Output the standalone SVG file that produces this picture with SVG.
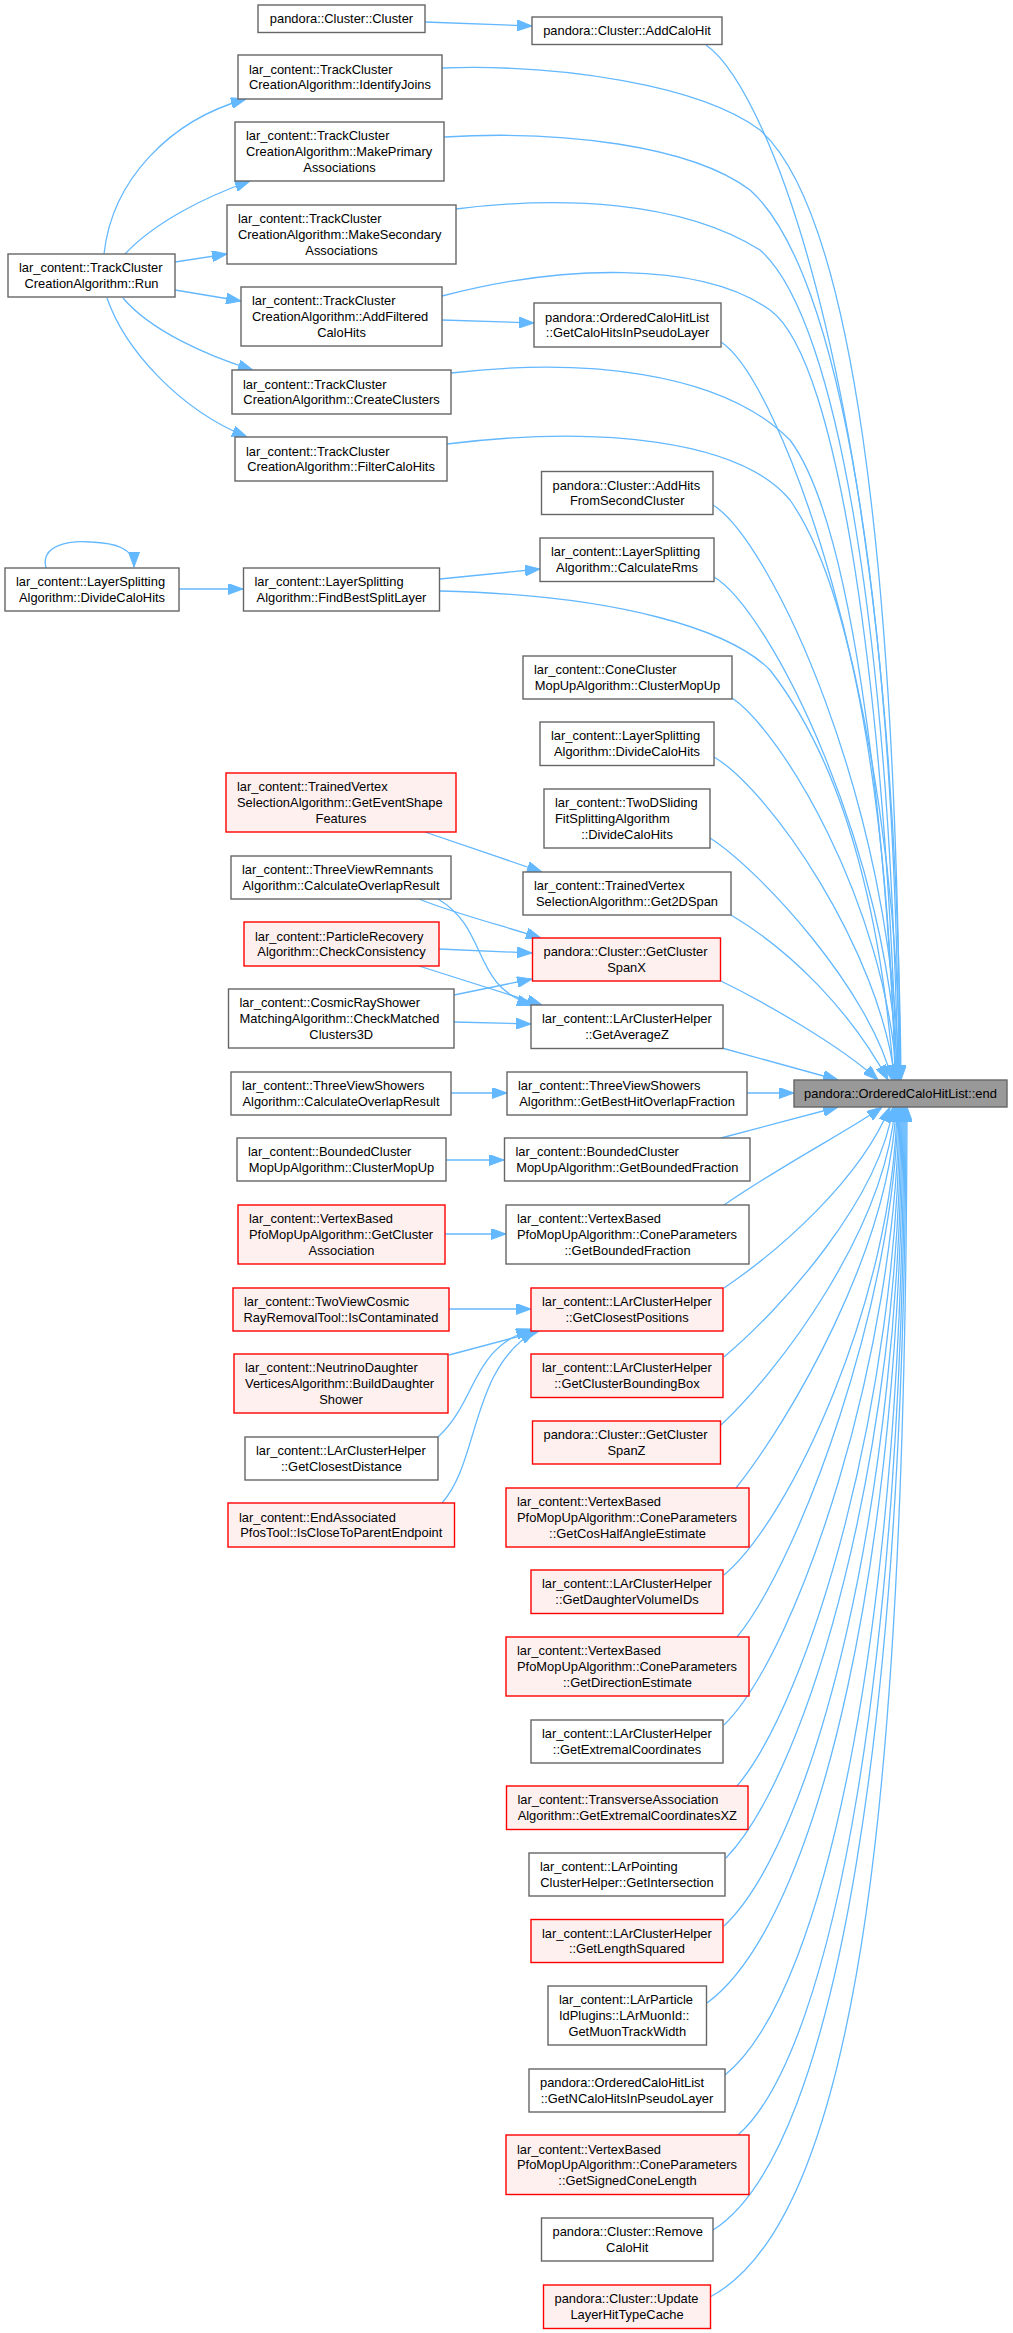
<svg xmlns="http://www.w3.org/2000/svg" width="1013" height="2333" viewBox="0 0 1013 2333">
<style>
.n rect{fill:#ffffff;stroke:#666666;stroke-width:1.4}
.r rect{fill:#fff0f0;stroke:#ff0000;stroke-width:1.4}
.root rect{fill:#999999;stroke:#666666;stroke-width:1.4}
text{font-family:"Liberation Sans",Arial,Helvetica,sans-serif;font-size:12.9px;fill:#000000}
.m{text-anchor:middle}
#edges path{fill:none;stroke:#63b8ff;stroke-width:1.3;marker-end:url(#a)}
</style>
<defs>
<marker id="a" viewBox="0 0 15 11" refX="15" refY="5.5" markerWidth="15" markerHeight="11" markerUnits="userSpaceOnUse" orient="auto">
<path d="M0,0 L15,5.5 L0,11 z" fill="#63b8ff" stroke="#63b8ff" stroke-width="1"/>
</marker>
</defs>
<rect x="0" y="0" width="1013" height="2333" fill="#ffffff"/>
<g id="edges">
<path d="M425,22 L532,26"/>
<path d="M442,320 L534,323"/>
<path d="M104,254 C112,180 170,120 246,99"/>
<path d="M125,254 C155,222 205,197 250,181"/>
<path d="M175,262 L227,254"/>
<path d="M175,290 L241,301"/>
<path d="M123,298 C150,330 205,355 253,370"/>
<path d="M107,298 C125,350 180,410 247,437"/>
<path d="M46,568 C40,545 70,540 91,542 C115,543 134,548 134,567"/>
<path d="M179,589 L243,589"/>
<path d="M440,579 L540,569"/>
<path d="M454,995 L532,979"/>
<path d="M454,1022 L531,1024"/>
<path d="M425,832 L542,872"/>
<path d="M419,899 C450,912 500,925 541,938"/>
<path d="M438,899 C490,930 470,985 532,1005"/>
<path d="M439,949 L532,953"/>
<path d="M419,966 L542,1005"/>
<path d="M451,1093 L507,1093"/>
<path d="M446,1160 L504,1160"/>
<path d="M445,1234 L506,1234"/>
<path d="M449,1309 L531,1309"/>
<path d="M449,1355 L539,1331"/>
<path d="M438,1437 C478,1400 470,1350 531,1329"/>
<path d="M442,1503 C480,1460 470,1370 535,1331"/>
<path d="M706,45 C770,90 895,400 901,1080"/>
<path d="M442,68 C560,64 700,85 760,130 C850,210 897,550 900,1080"/>
<path d="M444,137 C560,130 690,145 750,190 C840,270 895,600 899,1080"/>
<path d="M456,209 C560,196 680,200 760,250 C840,320 890,650 898,1080"/>
<path d="M442,296 C560,265 700,260 770,310 C840,360 885,700 897,1080"/>
<path d="M721,342 C780,380 898,700 900,1080"/>
<path d="M451,373 C580,358 720,370 790,440 C850,520 885,800 896,1080"/>
<path d="M447,444 C600,425 740,440 790,500 C860,600 890,850 895,1080"/>
<path d="M713,505 C770,540 893,800 899,1080"/>
<path d="M714,577 C770,610 890,850 898,1080"/>
<path d="M440,591 C620,595 730,630 770,670 C840,760 880,900 894,1080"/>
<path d="M732,698 C780,730 885,900 897,1080"/>
<path d="M714,757 C770,790 880,950 895,1080"/>
<path d="M710,838 C760,870 870,990 892,1080"/>
<path d="M731,915 C790,950 850,1010 888,1080"/>
<path d="M721,981 C760,1000 840,1045 878,1080"/>
<path d="M722,1048 L838,1080"/>
<path d="M747,1093 L794,1093"/>
<path d="M721,1138 L838,1107"/>
<path d="M724,1205 C790,1160 850,1130 882,1107"/>
<path d="M724,1288 C780,1250 860,1180 890,1107"/>
<path d="M724,1357 C780,1310 880,1200 893,1107"/>
<path d="M721,1425 C780,1370 885,1230 895,1107"/>
<path d="M736,1488 C790,1420 890,1250 896,1107"/>
<path d="M724,1575 C790,1520 893,1300 897,1107"/>
<path d="M737,1637 C800,1560 895,1300 898,1107"/>
<path d="M724,1725 C800,1650 897,1350 899,1107"/>
<path d="M737,1786 C810,1700 898,1400 900,1107"/>
<path d="M726,1858 C810,1770 900,1450 901,1107"/>
<path d="M724,1926 C815,1840 901,1500 902,1107"/>
<path d="M707,2003 C820,1920 902,1550 903,1107"/>
<path d="M725,2075 C830,1990 903,1600 904,1107"/>
<path d="M738,2135 C835,2050 904,1650 905,1107"/>
<path d="M713,2230 C840,2150 905,1700 906,1107"/>
<path d="M710,2297 C865,2215 906,1750 907,1107"/>
</g>
<g id="root" class="root"><rect x="794" y="1080" width="213" height="27"/><text class="m" x="900.5" y="1098">pandora::OrderedCaloHitList::end</text></g>
<g id="n1" class="n"><rect x="8" y="254" width="167" height="43"/><text x="19" y="272.15">lar_content::TrackCluster</text><text class="m" x="91.5" y="287.85">CreationAlgorithm::Run</text></g>
<g id="n2" class="n"><rect x="5" y="568" width="174" height="43"/><text x="16" y="586.15">lar_content::LayerSplitting</text><text class="m" x="92" y="601.85">Algorithm::DivideCaloHits</text></g>
<g id="n3" class="n"><rect x="258" y="5" width="167" height="27.5"/><text class="m" x="341.5" y="23.25">pandora::Cluster::Cluster</text></g>
<g id="n4" class="n"><rect x="238" y="55" width="204" height="44"/><text x="249" y="73.65">lar_content::TrackCluster</text><text class="m" x="340" y="89.35">CreationAlgorithm::IdentifyJoins</text></g>
<g id="n5" class="n"><rect x="235" y="122" width="209" height="59"/><text x="246" y="140.3">lar_content::TrackCluster</text><text x="246" y="156">CreationAlgorithm::MakePrimary</text><text class="m" x="339.5" y="171.7">Associations</text></g>
<g id="n6" class="n"><rect x="227" y="205" width="229" height="59"/><text x="238" y="223.3">lar_content::TrackCluster</text><text x="238" y="239">CreationAlgorithm::MakeSecondary</text><text class="m" x="341.5" y="254.7">Associations</text></g>
<g id="n7" class="n"><rect x="241" y="287" width="201" height="59"/><text x="252" y="305.3">lar_content::TrackCluster</text><text x="252" y="321">CreationAlgorithm::AddFiltered</text><text class="m" x="341.5" y="336.7">CaloHits</text></g>
<g id="n8" class="n"><rect x="232" y="370" width="219" height="44"/><text x="243" y="388.65">lar_content::TrackCluster</text><text class="m" x="341.5" y="404.35">CreationAlgorithm::CreateClusters</text></g>
<g id="n9" class="n"><rect x="235" y="437" width="212" height="44"/><text x="246" y="455.65">lar_content::TrackCluster</text><text class="m" x="341" y="471.35">CreationAlgorithm::FilterCaloHits</text></g>
<g id="n10" class="n"><rect x="243.5" y="568" width="196" height="43"/><text x="254.5" y="586.15">lar_content::LayerSplitting</text><text class="m" x="341.5" y="601.85">Algorithm::FindBestSplitLayer</text></g>
<g id="n11" class="r"><rect x="226" y="773" width="230" height="59"/><text x="237" y="791.3">lar_content::TrainedVertex</text><text x="237" y="807">SelectionAlgorithm::GetEventShape</text><text class="m" x="341" y="822.7">Features</text></g>
<g id="n12" class="n"><rect x="231" y="856" width="220" height="43"/><text x="242" y="874.15">lar_content::ThreeViewRemnants</text><text class="m" x="341" y="889.85">Algorithm::CalculateOverlapResult</text></g>
<g id="n13" class="r"><rect x="244" y="922" width="195" height="44"/><text x="255" y="940.65">lar_content::ParticleRecovery</text><text class="m" x="341.5" y="956.35">Algorithm::CheckConsistency</text></g>
<g id="n14" class="n"><rect x="228.5" y="989" width="225.5" height="59"/><text x="239.5" y="1007.3">lar_content::CosmicRayShower</text><text x="239.5" y="1023">MatchingAlgorithm::CheckMatched</text><text class="m" x="341.25" y="1038.7">Clusters3D</text></g>
<g id="n15" class="n"><rect x="231" y="1072" width="220" height="43"/><text x="242" y="1090.15">lar_content::ThreeViewShowers</text><text class="m" x="341" y="1105.85">Algorithm::CalculateOverlapResult</text></g>
<g id="n16" class="n"><rect x="237" y="1138" width="209" height="43"/><text x="248" y="1156.15">lar_content::BoundedCluster</text><text class="m" x="341.5" y="1171.85">MopUpAlgorithm::ClusterMopUp</text></g>
<g id="n17" class="r"><rect x="238" y="1205" width="207" height="59"/><text x="249" y="1223.3">lar_content::VertexBased</text><text x="249" y="1239">PfoMopUpAlgorithm::GetCluster</text><text class="m" x="341.5" y="1254.7">Association</text></g>
<g id="n18" class="r"><rect x="233" y="1288" width="216" height="43"/><text x="244" y="1306.15">lar_content::TwoViewCosmic</text><text class="m" x="341" y="1321.85">RayRemovalTool::IsContaminated</text></g>
<g id="n19" class="r"><rect x="234" y="1354" width="214" height="59"/><text x="245" y="1372.3">lar_content::NeutrinoDaughter</text><text x="245" y="1388">VerticesAlgorithm::BuildDaughter</text><text class="m" x="341" y="1403.7">Shower</text></g>
<g id="n20" class="n"><rect x="245" y="1437" width="193" height="43"/><text x="256" y="1455.15">lar_content::LArClusterHelper</text><text class="m" x="341.5" y="1470.85">::GetClosestDistance</text></g>
<g id="n21" class="r"><rect x="228" y="1503" width="226.5" height="44"/><text x="239" y="1521.65">lar_content::EndAssociated</text><text class="m" x="341.25" y="1537.35">PfosTool::IsCloseToParentEndpoint</text></g>
<g id="n22" class="n"><rect x="532" y="17" width="190" height="27.5"/><text class="m" x="627" y="35.25">pandora::Cluster::AddCaloHit</text></g>
<g id="n23" class="n"><rect x="534" y="303" width="187" height="44"/><text x="545" y="321.65">pandora::OrderedCaloHitList</text><text class="m" x="627.5" y="337.35">::GetCaloHitsInPseudoLayer</text></g>
<g id="n24" class="n"><rect x="541.5" y="471.5" width="171.5" height="43"/><text x="552.5" y="489.65">pandora::Cluster::AddHits</text><text class="m" x="627.25" y="505.35">FromSecondCluster</text></g>
<g id="n25" class="n"><rect x="540" y="538" width="174" height="43.5"/><text x="551" y="556.4">lar_content::LayerSplitting</text><text class="m" x="627" y="572.1">Algorithm::CalculateRms</text></g>
<g id="n26" class="n"><rect x="523" y="656" width="209" height="43"/><text x="534" y="674.15">lar_content::ConeCluster</text><text class="m" x="627.5" y="689.85">MopUpAlgorithm::ClusterMopUp</text></g>
<g id="n27" class="n"><rect x="540" y="722" width="174" height="43.5"/><text x="551" y="740.4">lar_content::LayerSplitting</text><text class="m" x="627" y="756.1">Algorithm::DivideCaloHits</text></g>
<g id="n28" class="n"><rect x="544" y="789" width="166" height="59"/><text x="555" y="807.3">lar_content::TwoDSliding</text><text x="555" y="823">FitSplittingAlgorithm</text><text class="m" x="627" y="838.7">::DivideCaloHits</text></g>
<g id="n29" class="n"><rect x="523" y="872" width="208" height="43"/><text x="534" y="890.15">lar_content::TrainedVertex</text><text class="m" x="627" y="905.85">SelectionAlgorithm::Get2DSpan</text></g>
<g id="n30" class="r"><rect x="532.5" y="938" width="188" height="43"/><text x="543.5" y="956.15">pandora::Cluster::GetCluster</text><text class="m" x="626.5" y="971.85">SpanX</text></g>
<g id="n31" class="n"><rect x="531" y="1005" width="192" height="43.5"/><text x="542" y="1023.4">lar_content::LArClusterHelper</text><text class="m" x="627" y="1039.1">::GetAverageZ</text></g>
<g id="n32" class="n"><rect x="507" y="1072" width="240" height="43"/><text x="518" y="1090.15">lar_content::ThreeViewShowers</text><text class="m" x="627" y="1105.85">Algorithm::GetBestHitOverlapFraction</text></g>
<g id="n33" class="n"><rect x="504.5" y="1138" width="245.5" height="43"/><text x="515.5" y="1156.15">lar_content::BoundedCluster</text><text class="m" x="627.25" y="1171.85">MopUpAlgorithm::GetBoundedFraction</text></g>
<g id="n34" class="n"><rect x="506" y="1205" width="243" height="59"/><text x="517" y="1223.3">lar_content::VertexBased</text><text x="517" y="1239">PfoMopUpAlgorithm::ConeParameters</text><text class="m" x="627.5" y="1254.7">::GetBoundedFraction</text></g>
<g id="n35" class="r"><rect x="531" y="1288" width="192" height="43"/><text x="542" y="1306.15">lar_content::LArClusterHelper</text><text class="m" x="627" y="1321.85">::GetClosestPositions</text></g>
<g id="n36" class="r"><rect x="531" y="1354" width="192" height="43.5"/><text x="542" y="1372.4">lar_content::LArClusterHelper</text><text class="m" x="627" y="1388.1">::GetClusterBoundingBox</text></g>
<g id="n37" class="r"><rect x="532.5" y="1421" width="188" height="43"/><text x="543.5" y="1439.15">pandora::Cluster::GetCluster</text><text class="m" x="626.5" y="1454.85">SpanZ</text></g>
<g id="n38" class="r"><rect x="506" y="1488" width="243" height="59"/><text x="517" y="1506.3">lar_content::VertexBased</text><text x="517" y="1522">PfoMopUpAlgorithm::ConeParameters</text><text class="m" x="627.5" y="1537.7">::GetCosHalfAngleEstimate</text></g>
<g id="n39" class="r"><rect x="531" y="1570" width="192" height="43.5"/><text x="542" y="1588.4">lar_content::LArClusterHelper</text><text class="m" x="627" y="1604.1">::GetDaughterVolumeIDs</text></g>
<g id="n40" class="r"><rect x="506" y="1637" width="243" height="59"/><text x="517" y="1655.3">lar_content::VertexBased</text><text x="517" y="1671">PfoMopUpAlgorithm::ConeParameters</text><text class="m" x="627.5" y="1686.7">::GetDirectionEstimate</text></g>
<g id="n41" class="n"><rect x="531" y="1720" width="192" height="43"/><text x="542" y="1738.15">lar_content::LArClusterHelper</text><text class="m" x="627" y="1753.85">::GetExtremalCoordinates</text></g>
<g id="n42" class="r"><rect x="506.5" y="1786" width="241.5" height="43.5"/><text x="517.5" y="1804.4">lar_content::TransverseAssociation</text><text class="m" x="627.25" y="1820.1">Algorithm::GetExtremalCoordinatesXZ</text></g>
<g id="n43" class="n"><rect x="529" y="1853" width="196" height="43"/><text x="540" y="1871.15">lar_content::LArPointing</text><text class="m" x="627" y="1886.85">ClusterHelper::GetIntersection</text></g>
<g id="n44" class="r"><rect x="531" y="1919.5" width="192" height="43"/><text x="542" y="1937.65">lar_content::LArClusterHelper</text><text class="m" x="627" y="1953.35">::GetLengthSquared</text></g>
<g id="n45" class="n"><rect x="548" y="1986" width="158.5" height="59"/><text x="559" y="2004.3">lar_content::LArParticle</text><text x="559" y="2020">IdPlugins::LArMuonId::</text><text class="m" x="627.25" y="2035.7">GetMuonTrackWidth</text></g>
<g id="n46" class="n"><rect x="529" y="2069" width="196" height="43"/><text x="540" y="2087.15">pandora::OrderedCaloHitList</text><text class="m" x="627" y="2102.85">::GetNCaloHitsInPseudoLayer</text></g>
<g id="n47" class="r"><rect x="506" y="2135" width="243" height="59.5"/><text x="517" y="2153.55">lar_content::VertexBased</text><text x="517" y="2169.25">PfoMopUpAlgorithm::ConeParameters</text><text class="m" x="627.5" y="2184.95">::GetSignedConeLength</text></g>
<g id="n48" class="n"><rect x="541.5" y="2218" width="171.5" height="43"/><text x="552.5" y="2236.15">pandora::Cluster::Remove</text><text class="m" x="627.25" y="2251.85">CaloHit</text></g>
<g id="n49" class="r"><rect x="543.5" y="2285" width="167" height="43.5"/><text x="554.5" y="2303.4">pandora::Cluster::Update</text><text class="m" x="627" y="2319.1">LayerHitTypeCache</text></g>
</svg>
